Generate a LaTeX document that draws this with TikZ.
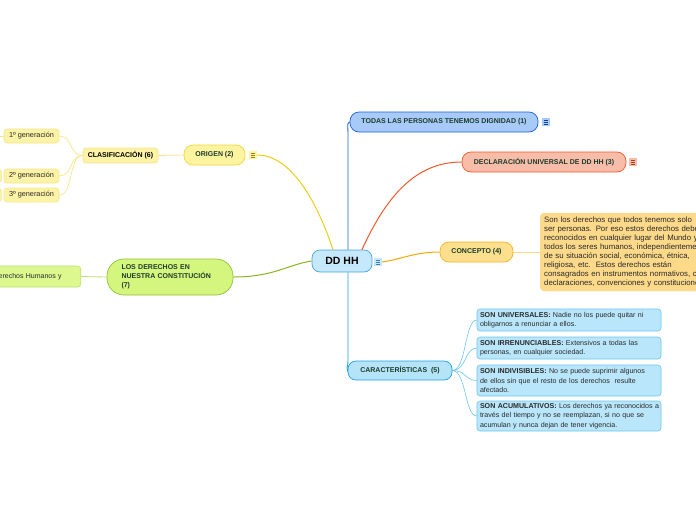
\documentclass[tikz,border=0pt]{standalone}
\usepackage{fontspec}
\setmainfont{Liberation Sans}
\usetikzlibrary{calc}
\definecolor{ddfill}{HTML}{C5E8FA}\definecolor{ddline}{HTML}{4AA3DF}
\definecolor{tdfill}{HTML}{A8CAF8}\definecolor{tdline}{HTML}{1B62D6}
\definecolor{dcfill}{HTML}{F8BDA9}\definecolor{dcline}{HTML}{F2582A}
\definecolor{cofill}{HTML}{FDE08E}\definecolor{coline}{HTML}{F7B22A}\definecolor{coconn}{HTML}{F7A800}
\definecolor{ctfill}{HTML}{FDD98A}\definecolor{ctline}{HTML}{FCE0A0}
\definecolor{cafill}{HTML}{B5E4F8}\definecolor{caline}{HTML}{1FA2E2}
\definecolor{kdfill}{HTML}{B9E6FA}\definecolor{kdline}{HTML}{6CC6F0}
\definecolor{orfill}{HTML}{FDF4A0}\definecolor{orline}{HTML}{EFD63E}\definecolor{orconn}{HTML}{E8CF1A}
\definecolor{clfill}{HTML}{FDF3A6}\definecolor{clline}{HTML}{F6E58C}
\definecolor{lsfill}{HTML}{D5F67E}\definecolor{lsline}{HTML}{8AC23A}\definecolor{lsconn}{HTML}{86B51E}
\definecolor{dhfill}{HTML}{DCF88E}\definecolor{dhline}{HTML}{B8DF70}
\definecolor{ttext}{HTML}{1C3B2C}
\definecolor{btext}{HTML}{2A2A2A}
\newcommand\micon[4]{%
  \node[fill=#3, minimum size=8pt, inner sep=0pt] (#1) at (#2) {};
  \foreach \dy in {-2,0,2}{\draw[#4, line width=0.55pt] ([xshift=-2.4pt,yshift=\dy pt]#1.center) -- ([xshift=2.4pt,yshift=\dy pt]#1.center);}}
\tikzset{
  title/.style={font=\fontsize{7}{8}\selectfont\bfseries, text=ttext, inner sep=0pt, align=center},
  kid/.style={draw=kdline, fill=kdfill, rounded corners=3pt, line width=0.6pt, minimum width=184pt,
    text width=178pt, inner xsep=3pt, inner ysep=0pt, align=left, font=\fontsize{7.1}{9.3}\selectfont, text=btext},
  gen/.style={draw=clline, fill=clfill, rounded corners=3pt, line width=0.6pt, minimum width=55pt, minimum height=14pt,
    inner sep=0pt, font=\fontsize{7.3}{8}\selectfont, text=btext},
}
\begin{document}
\begin{tikzpicture}[x=1pt,y=-1pt]
\useasboundingbox (0,0) rectangle (696,520);
% central
\node[title, draw=ddline, fill=ddfill, line width=0.7pt, rounded corners=8pt, minimum width=60pt, minimum height=22pt,
  font=\fontsize{10.5}{11}\selectfont\bfseries, text=black] (dd) at (342,261) {DD HH};
\micon{ddicon}{378,262}{ddfill}{ddline!80!black}
% right side
\node[title, draw=tdline, fill=tdfill, line width=0.7pt, rounded corners=9pt, minimum width=188pt, minimum height=20pt] (todas) at (444,122) {TODAS LAS PERSONAS TENEMOS DIGNIDAD (1)};
\micon{tdicon}{546,122}{tdfill}{tdline!70!black}
\node[title, draw=dcline, fill=dcfill, line width=0.7pt, rounded corners=9pt, minimum width=164pt, minimum height=20pt] (decl) at (544,162) {DECLARACIÓN UNIVERSAL DE DD HH (3)};
\micon{dcicon}{633,162}{dcfill}{dcline!70!black}
\node[title, draw=coline, fill=cofill, line width=0.7pt, rounded corners=9pt, minimum width=73pt, minimum height=20pt] (conc) at (476.5,252) {CONCEPTO (4)};
\node[draw=ctline, fill=ctfill, rounded corners=4pt, anchor=west, minimum height=78pt, minimum width=200pt,
  inner xsep=4pt, inner ysep=3pt, align=left, text=btext, font=\fontsize{7.8}{8.9}\selectfont, text width=192pt] (ctext) at (540,252)
  {\raisebox{-2pt}{Son los derechos que todos tenemos solo}\\
   \raisebox{-2pt}{ser personas. Por eso estos derechos deben}\\
   \raisebox{-2pt}{reconocidos en cualquier lugar del Mundo y}\\
   \raisebox{-2pt}{todos los seres humanos, independientemente}\\
   \raisebox{-2pt}{de su situación social, económica, étnica,}\\
   \raisebox{-2pt}{religiosa, etc.\ \ Estos derechos están}\\
   \raisebox{-2pt}{consagrados en instrumentos normativos, como}\\
   \raisebox{-2pt}{declaraciones, convenciones y constituciones.}};
\node[title, draw=caline, fill=cafill, line width=0.7pt, rounded corners=8pt, minimum width=104pt, minimum height=19pt] (carac) at (400,370.5) {CARACTERÍSTICAS\ \ (5)};
\node[kid, minimum height=22pt] (k1) at (569,320) {\mbox{\textbf{SON UNIVERSALES:} Nadie no los puede quitar ni}\\\mbox{obligarnos a renunciar a ellos.}};
\node[kid, minimum height=22pt] (k2) at (569,348) {\mbox{\textbf{SON IRRENUNCIABLES:} Extensivos a todas las}\\\mbox{personas, en cualquier sociedad.}};
\node[kid, minimum height=31pt] (k3) at (569,380.5) {\mbox{\textbf{SON INDIVISIBLES:} No se puede suprimir algunos}\\\mbox{de ellos sin que el resto de los derechos\ \ resulte}\\\mbox{afectado.}};
\node[kid, minimum height=30pt] (k4) at (569,416) {\mbox{\textbf{SON ACUMULATIVOS:} Los derechos ya reconocidos a}\\\mbox{través del tiempo y no se reemplazan, si no que se}\\\mbox{acumulan y nunca dejan de tener vigencia.}};
% left side
\node[title, draw=orline, fill=orfill, line width=0.7pt, rounded corners=9pt, minimum width=61pt, minimum height=20pt] (orig) at (214.5,155) {ORIGEN (2)};
\micon{oricon}{253,155}{orfill}{orline!60!black}
\node[title, text=black, draw=clline, fill=clfill, line width=0.6pt, rounded corners=3pt, minimum width=75pt, minimum height=15pt] (clas) at (120.5,155.5) {CLASIFICACIÓN (6)};
\node[gen] (g1) at (31.5,136) {1º generación};
\node[gen] (g2) at (31.5,176) {2º generación};
\node[gen] (g3) at (31.5,195) {3º generación};
\draw[clline, fill=clfill, line width=0.6pt, rounded corners=2pt] (-30,169.5) rectangle (1.2,182.5);
\draw[clline, fill=clfill, line width=0.6pt, rounded corners=2pt] (-30,188.5) rectangle (1.2,201.5);
\coordinate (g1in) at (-2,136);
\node[title, draw=lsline, fill=lsfill, line width=0.7pt, rounded corners=17pt, minimum width=126pt, minimum height=36pt,
  text width=97pt, inner xsep=14.5pt, align=left, font=\fontsize{7}{8.8}\selectfont\bfseries] (los) at (170,277)
  {LOS DERECHOS EN\\NUESTRA CONSTITUCIÓN\\(7)};
\node[draw=dhline, fill=dhfill, line width=0.6pt, rounded corners=3pt, anchor=east, minimum width=130pt, minimum height=21pt,
  inner sep=0pt, font=\fontsize{7}{8}\selectfont, text=btext, text width=120pt, align=right] (dh) at (81,276.5) {Derechos Humanos y\hspace*{14pt}};
% connectors
\draw[tdline, line width=0.9pt] ([xshift=6pt]dd.north) -- ++(0,-117) .. controls +(0,-6) and +(-3,1) .. (todas.west);
\draw[caline, line width=0.9pt] ([xshift=6pt]dd.south) -- ++(0,89) .. controls +(0,6) and +(-2,-3) .. ([yshift=-1pt]carac.west);
\draw[dcline, line width=1pt] ([xshift=20pt]dd.north) .. controls +(25,-55) and +(-45,0) .. (decl.west);
\draw[coconn, line width=1pt] (ddicon.east) .. controls +(20,-3) and +(-25,0) .. (conc.west);
\draw[ctline!80!coline, line width=0.8pt] (conc.east) -- (ctext.west);
\draw[orconn, line width=1pt] ([xshift=-9pt]dd.north) .. controls +(-15,-45) and +(35,0) .. (oricon.east);
\draw[clline, line width=0.8pt] (orig.west) -- (clas.east);
\foreach \g in {g1,g2,g3}{\draw[clline, line width=0.7pt] (clas.west) .. controls +(-14,0) and +(14,0) .. (\g.east);}
\draw[clline, line width=0.7pt] (g1in) -- (g1.west);
\draw[lsconn, line width=1pt] (los.east) .. controls +(40,0) and +(-25,4) .. (dd.west);
\draw[dhline, line width=0.8pt] (dh.east) -- (los.west);
\foreach \k in {k1,k2,k3,k4}{\draw[kdline, line width=0.6pt] (carac.east) .. controls +(14,0) and +(-12,0) .. (\k.west);}
\end{tikzpicture}
\end{document}
